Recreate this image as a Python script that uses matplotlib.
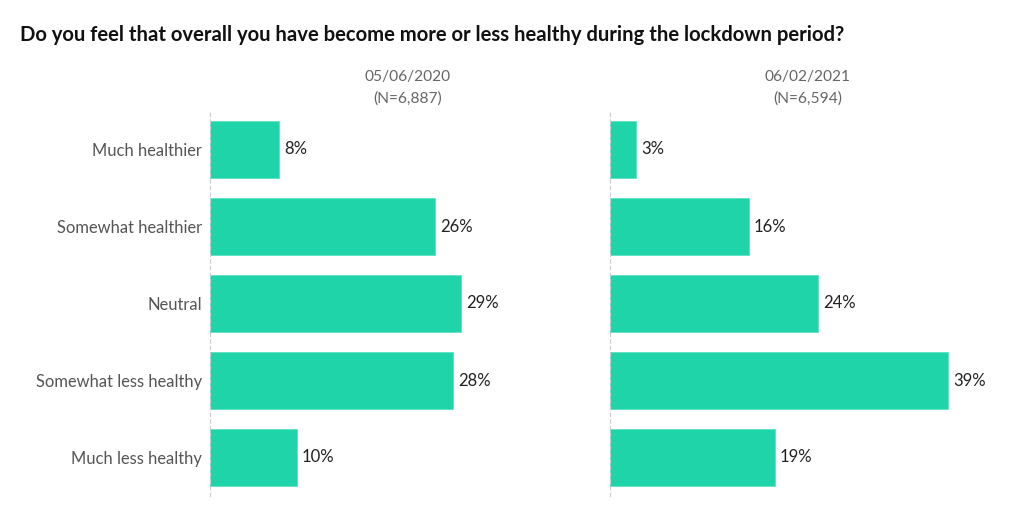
import matplotlib
matplotlib.use("Agg")
import matplotlib.pyplot as plt

categories = ["Much healthier", "Somewhat healthier", "Neutral",
              "Somewhat less healthy", "Much less healthy"]
values_2020 = [8, 26, 29, 28, 10]
values_2021 = [3, 16, 24, 39, 19]
headers = ["05/06/2020\n(N=6,887)", "06/02/2021\n(N=6,594)"]
title = "Do you feel that overall you have become more or less healthy during the lockdown period?"

plt.rcParams['font.family'] = ['Lato', 'DejaVu Sans']
bar_color = "#1fd4a8"

fig = plt.figure(figsize=(10.24, 5.12), dpi=100)
fig.text(20/1024, 1 - 35/512, title, fontsize=14.6, fontweight='bold',
         color='#111111', ha='left', va='center')

lefts = [210/1024, 610/1024]
for i, (vals, hdr) in enumerate(zip([values_2020, values_2021], headers)):
    ax = fig.add_axes([lefts[i], 16/512, 395/1024, 385/512])
    y = list(range(len(categories)))
    ax.barh(y, vals, height=0.75, color=bar_color, edgecolor='#5fe3c3', linewidth=0.6)
    ax.set_ylim(len(categories) - 0.5, -0.5)
    ax.set_xlim(0, 45.6)
    for yy, v in zip(y, vals):
        ax.text(v + 0.6, yy, f"{v}%", va='center', ha='left', fontsize=12, color='#222222')
    for s in ['top', 'right', 'bottom']:
        ax.spines[s].set_visible(False)
    ax.spines['left'].set_linestyle((0, (3, 3)))
    ax.spines['left'].set_color('#cccccc')
    ax.spines['left'].set_linewidth(0.8)
    ax.set_xticks([])
    if i == 0:
        ax.set_yticks(y)
        ax.set_yticklabels(categories, fontsize=11.9, color='#555555')
        ax.tick_params(axis='y', length=0, pad=6)
    else:
        ax.set_yticks([])
    ax.text(0.5, 1.015, hdr, transform=ax.transAxes, ha='center', va='bottom',
            fontsize=11.2, color='#666666', linespacing=1.65)

fig.savefig("out.png", dpi=100)
